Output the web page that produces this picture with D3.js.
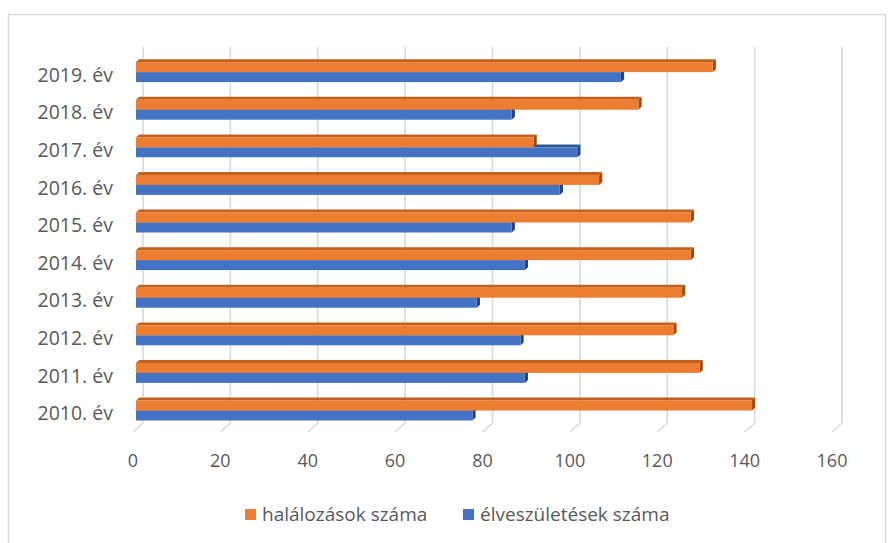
<!DOCTYPE html>
<html>
<head>
<meta charset="utf-8">
<script src="https://cdn.jsdelivr.net/npm/d3@7/dist/d3.min.js"></script>
<style>
  html, body { margin: 0; padding: 0; background: #fff; }
  svg { display: block; }
  text { font-family: "Open Sans", Lato, sans-serif; fill: #595959; }
</style>
</head>
<body>
<svg id="chart" width="889" height="543"></svg>
<script>
// Categories (bottom to top as drawn: 2010 at the bottom)
const years = ["2010. év", "2011. év", "2012. év", "2013. év", "2014. év",
               "2015. év", "2016. év", "2017. év", "2018. év", "2019. év"];
const seriesNames = ["halálozások száma", "élveszületések száma"];
const deaths = [141, 129, 123, 125, 127, 127, 106, 91, 115, 132];
const births = [77, 89, 88, 78, 89, 86, 97, 101, 86, 111];
const tickValues = [0, 20, 40, 60, 80, 100, 120, 140, 160];

const colors = {
  "halálozások száma":   { front: "#ED7D31", top: "#C2601F", side: "#9E4A14" },
  "élveszületések száma": { front: "#4472C4", top: "#2F5597", side: "#23437A" }
};

const svg = d3.select("#chart");

// chart frame
svg.append("rect")
  .attr("x", 8.5).attr("y", 14.5).attr("width", 877).attr("height", 540)
  .attr("fill", "none").attr("stroke", "#d9d9d9").attr("stroke-width", 1.5);

// front-plane scales; the back wall sits offset by a fixed depth vector
const x = d3.scaleLinear().domain([0, 160]).range([133, 832]);
const y = d3.scaleBand().domain(years.slice().reverse()).range([56, 432]);
const sub = d3.scaleBand().domain(seriesNames).range([0, y.bandwidth()]).paddingOuter(0.88);
const depth = { dx: 10, dy: -9 };
const barDepth = { t0: 0.3, t1: 0.62 };

// gridlines on the back wall, bending forward along the floor
const grid = svg.append("g");
tickValues.forEach(v => {
  const xf = x(v), yTop = y.range()[0], yBot = y.range()[1];
  const xb = xf + depth.dx;
  grid.append("path")
    .attr("d", `M${xb},${yTop + depth.dy} L${xb},${yBot + depth.dy} L${xf},${yBot}`)
    .attr("fill", "none").attr("stroke", "#d9d9d9").attr("stroke-width", 1.6);
});

// tick labels
svg.append("g").selectAll("text").data(tickValues).join("text")
  .attr("x", d => x(d)).attr("y", 467)
  .attr("text-anchor", "middle")
  .style("font-size", "18px")
  .text(d => d);

// category labels
svg.append("g").selectAll("text").data(years).join("text")
  .attr("x", 113).attr("y", d => y(d) + y.bandwidth() / 2 + 7)
  .attr("text-anchor", "end")
  .style("font-size", "19.5px")
  .text(d => d);

// 3D bars: front face, top face and right side face
const rows = years.map((yr, i) => ({ year: yr, values: { "halálozások száma": deaths[i], "élveszületések száma": births[i] } }));
const bars = svg.append("g");
const ox0 = barDepth.t0 * depth.dx, oy0 = barDepth.t0 * depth.dy;
const ox1 = barDepth.t1 * depth.dx, oy1 = barDepth.t1 * depth.dy;
const dxs = ox1 - ox0, dys = oy1 - oy0;

rows.slice().reverse().forEach(r => {
  // lower series first so the upper bar's front face covers its top face
  seriesNames.slice().reverse().forEach(s => {
    const v = r.values[s];
    const c = colors[s];
    const x0 = x(0) + ox0, x1 = x(v) + ox0;
    const yt = y(r.year) + sub(s) + oy0, h = sub.bandwidth();
    const g = bars.append("g");
    g.append("path")
      .attr("d", `M${x0},${yt} L${x0 + dxs},${yt + dys} L${x1 + dxs},${yt + dys} L${x1},${yt} Z`)
      .attr("fill", c.top);
    g.append("path")
      .attr("d", `M${x1},${yt} L${x1 + dxs},${yt + dys} L${x1 + dxs},${yt + h + dys} L${x1},${yt + h} Z`)
      .attr("fill", c.side);
    g.append("rect")
      .attr("x", x0).attr("y", yt).attr("width", x1 - x0).attr("height", h)
      .attr("fill", c.front);
  });
});

// legend
const legend = svg.append("g");
const legendItems = [
  { name: seriesNames[0], x: 245 },
  { name: seriesNames[1], x: 463 }
];
legendItems.forEach(it => {
  legend.append("rect")
    .attr("x", it.x).attr("y", 509).attr("width", 11).attr("height", 11)
    .attr("fill", colors[it.name].front);
  legend.append("text")
    .attr("x", it.x + 17).attr("y", 521)
    .style("font-size", "19px")
    .text(it.name);
});
</script>
</body>
</html>
